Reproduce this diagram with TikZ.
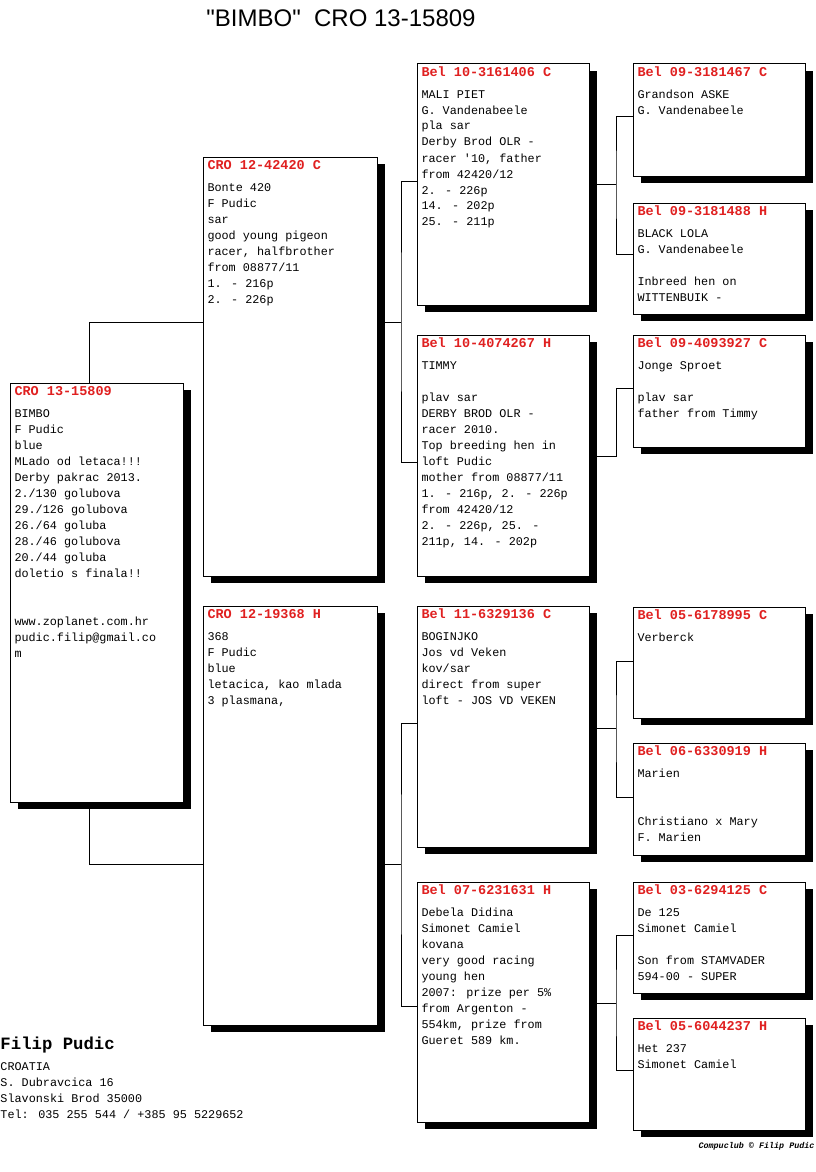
\documentclass[tikz,border=0pt]{standalone}
\usepackage{fontspec}
\newfontfamily\mono{Liberation Mono}[WordSpace={1,0,0}]
\newfontfamily\titlefont{Liberation Sans}
\usetikzlibrary{shadows}
\definecolor{ringred}{RGB}{224,32,32}
\newcommand{\ringno}[1]{{\bfseries\fontsize{13.5}{16}\selectfont\color{ringred}#1}}
\tikzset{
  card/.style={draw, fill=white, anchor=north west, inner sep=0pt, outer sep=0pt,
    drop shadow={shadow xshift=8pt, shadow yshift=-7pt, fill=black, opacity=1}},
  info/.style={anchor=base west, inner sep=0pt, font=\mono\fontsize{11.8}{16}\selectfont},
}
\newcommand{\pigeon}[7]{%
  \node[card, minimum width=#4, minimum height=#5] (#1) at (#2,#3) {};
  \node[info] (#1-t) at ([shift={(4,12.5)}]#1.north west)
    {\parbox[t]{170pt}{\raggedright\leavevmode\ringno{#6}\\[5.5pt]#7}};
}
\begin{document}
\begin{tikzpicture}[x=1pt, y=-1pt, line width=1pt]
\useasboundingbox (0,0) rectangle (816,1172);

\node[font=\titlefont\fontsize{24}{28}\selectfont, anchor=base, inner sep=0pt] (title) at (341,27) {"BIMBO"\ \ CRO 13-15809};

\pigeon{b}{10}{383}{173}{419}{CRO 13-15809}{BIMBO\\F Pudic\\blue\\MLado od letaca!!!\\Derby pakrac 2013.\\2./130 golubova\\29./126 golubova\\26./64 goluba\\28./46 golubova\\20./44 goluba\\doletio s finala!!\\~\\~\\www.zoplanet.com.hr\\pudic.filip@gmail.co\\m}
\pigeon{s}{203}{157}{174}{419}{CRO 12-42420 C}{Bonte 420\\F Pudic\\sar\\good young pigeon\\racer, halfbrother\\from 08877/11\\1. - 216p\\2. - 226p}
\pigeon{d}{203}{606}{174}{419}{CRO 12-19368 H}{368\\F Pudic\\blue\\letacica, kao mlada\\3 plasmana,}

\pigeon{ss}{417}{64}{172}{241}{Bel 10-3161406 C}{MALI PIET\\G. Vandenabeele\\pla sar\\Derby Brod OLR -\\racer '10, father\\from 42420/12\\2. - 226p\\14. - 202p\\25. - 211p}
\pigeon{sd}{417}{335}{172}{241}{Bel 10-4074267 H}{TIMMY\\~\\plav sar\\DERBY BROD OLR -\\racer 2010.\\Top breeding hen in\\loft Pudic\\mother from 08877/11\\1. - 216p, 2. - 226p\\from 42420/12\\2. - 226p, 25. -\\211p, 14. - 202p}
\pigeon{ds}{417}{606}{172}{241}{Bel 11-6329136 C}{BOGINJKO\\Jos vd Veken\\kov/sar\\direct from super\\loft - JOS VD VEKEN}
\pigeon{dd}{417}{882}{172}{240}{Bel 07-6231631 H}{Debela Didina\\Simonet Camiel\\kovana\\very good racing\\young hen\\2007: prize per 5\%\\from Argenton -\\554km, prize from\\Gueret 589 km.}

\pigeon{sss}{633}{64}{172}{112}{Bel 09-3181467 C}{Grandson ASKE\\G. Vandenabeele}
\pigeon{ssd}{633}{203}{172}{111}{Bel 09-3181488 H}{BLACK LOLA\\G. Vandenabeele\\~\\Inbreed hen on\\WITTENBUIK -}
\pigeon{sds}{633}{335}{172}{112}{Bel 09-4093927 C}{Jonge Sproet\\~\\plav sar\\father from Timmy}
\pigeon{dss}{633}{607}{172}{111}{Bel 05-6178995 C}{Verberck}
\pigeon{dsd}{633}{743}{172}{112}{Bel 06-6330919 H}{Marien\\~\\~\\Christiano x Mary\\F. Marien}
\pigeon{dds}{633}{882}{172}{111}{Bel 03-6294125 C}{De 125\\Simonet Camiel\\~\\Son from STAMVADER\\594-00 - SUPER}
\pigeon{ddd}{633}{1018}{172}{112}{Bel 05-6044237 H}{Het 237\\Simonet Camiel}

\coordinate (sj) at (401,322);
\coordinate (dj) at (401,864);
\coordinate (ssj) at (616,184);
\coordinate (sdj) at (616,456);
\coordinate (dsj) at (616,728);
\coordinate (ddj) at (616,1003);

\draw (b.north -| 89,0) |- (s.west |- sj);
\draw (b.south -| 89,0) |- (d.west |- dj);
\draw (s.east |- sj) -- (sj);
\draw (ss.west |- 0,181) -| (sj) |- (sd.west |- 0,462);
\draw (d.east |- dj) -- (dj);
\draw (ds.west |- 0,723) -| (dj) |- (dd.west |- 0,1006);
\draw (ss.east |- ssj) -- (ssj);
\draw (sss.west |- 0,116) -| (ssj) |- (ssd.west |- 0,254);
\draw (sd.east |- sdj) -- (sdj) |- (sds.west |- 0,388);
\draw (ds.east |- dsj) -- (dsj);
\draw (dss.west |- 0,661) -| (dsj) |- (dsd.west |- 0,797);
\draw (dd.east |- ddj) -- (ddj);
\draw (dds.west |- 0,935) -| (ddj) |- (ddd.west |- 0,1070);

\node[anchor=base west, inner sep=0pt, font=\mono\bfseries\fontsize{17.3}{20}\selectfont] (owner) at (0,1049) {Filip Pudic};
\node[info] (addr) at (0,1070) {\parbox[t]{300pt}{\raggedright CROATIA\\S. Dubravcica 16\\Slavonski Brod 35000\\Tel: 035 255 544 / +385 95 5229652}};
\node[anchor=base east, inner sep=0pt, font=\mono\bfseries\itshape\fontsize{8.4}{10}\selectfont] (credit) at (815,1148) {Compuclub \textcopyright{} Filip Pudic};
\end{tikzpicture}
\end{document}
